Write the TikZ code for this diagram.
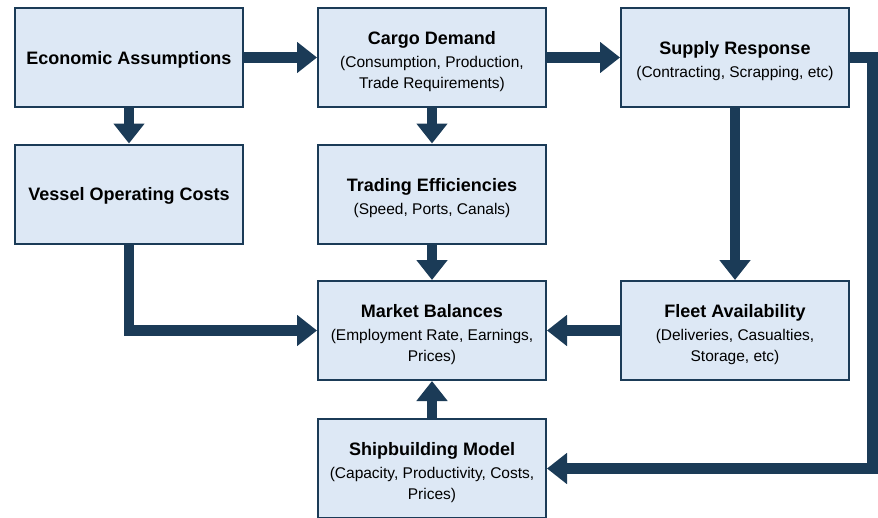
\documentclass[tikz,border=0pt]{standalone}
\usepackage{fontspec}
\setmainfont{Liberation Sans}
\usetikzlibrary{arrows.meta}

\definecolor{navy}{RGB}{27,59,87}
\definecolor{boxfill}{RGB}{221,232,245}

% bold heading line; the strut sets how far the text block sits below centre
\newcommand\blocktitle[2][21pt]{{\fontsize{18}{21}\selectfont\bfseries\rule{0pt}{#1}#2}}

\tikzset{
  block/.style={draw=navy, line width=2pt, fill=boxfill,
    minimum width=228pt, minimum height=99pt, inner sep=0pt,
    align=center, font=\fontsize{15.5}{21}\selectfont},
  flow/.style={draw=navy, line width=10.5pt, line join=miter,
    -{Triangle[width=30pt,length=20pt]}}
}

\begin{document}
\begin{tikzpicture}[x=1pt,y=-1pt]
  \useasboundingbox (0,0) rectangle (878,517);
  \clip (0,0) rectangle (878,517);

  % boxes
  \node[block] (econ)   at (129,57.5) {\blocktitle[17pt]{Economic Assumptions}};
  \node[block] (cargo)  at (432,57.5) {\blocktitle{Cargo Demand}\\[2pt]
      (Consumption, Production,\\ Trade Requirements)};
  \node[block] (supply) at (735,57.5) {\blocktitle{Supply Response}\\[2pt]
      (Contracting, Scrapping, etc)};
  \node[block] (vessel) at (129,194) {\blocktitle[17pt]{Vessel Operating Costs}};
  \node[block] (trade)  at (432,194) {\blocktitle{Trading Efficiencies}\\[2pt]
      (Speed, Ports, Canals)};
  \node[block] (market) at (432,330.5) {\blocktitle{Market Balances}\\[2pt]
      (Employment Rate, Earnings,\\ Prices)};
  \node[block] (fleet)  at (735,330.5) {\blocktitle{Fleet Availability}\\[2pt]
      (Deliveries, Casualties,\\ Storage, etc)};
  \node[block] (ship)   at (432,468.5) {\blocktitle{Shipbuilding Model}\\[2pt]
      (Capacity, Productivity, Costs,\\ Prices)};

  % connectors
  \draw[flow] (econ.east) -- (cargo.west);
  \draw[flow] (cargo.east) -- (supply.west);
  \draw[flow] (econ.south) -- (vessel.north);
  \draw[flow] (cargo.south) -- (trade.north);
  \draw[flow] (trade.south) -- (market.north);
  \draw[flow] (supply.south) -- (fleet.north);
  \draw[flow] (fleet.west) -- (market.east);
  \draw[flow] (ship.north) -- (market.south);
  \draw[flow] (vessel.south) |- (market.west);
  \coordinate (rail) at (872.5,57.5);
  \draw[flow] (supply.east) -- (rail) |- (ship.east);
\end{tikzpicture}
\end{document}
